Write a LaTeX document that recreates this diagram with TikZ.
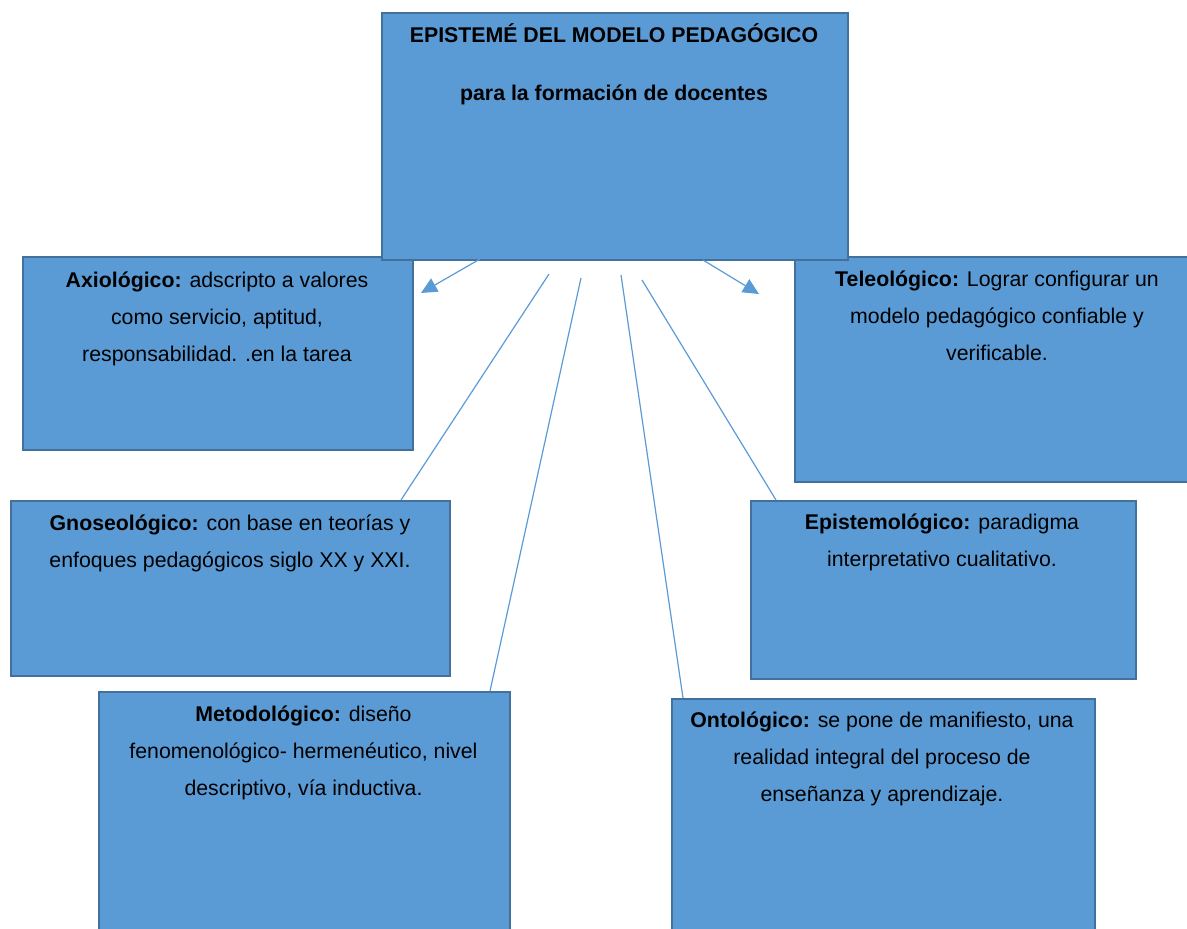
\documentclass[tikz,border=0pt]{standalone}
\usepackage{fontspec}
\setmainfont{Liberation Sans}
\usetikzlibrary{arrows.meta,calc}
\definecolor{boxfill}{HTML}{5B9BD5}
\definecolor{boxline}{HTML}{41719C}
\begin{document}
\begin{tikzpicture}[x=1pt,y=-1pt,
  panel/.style={draw=boxline,fill=boxfill,line width=2.4pt,inner sep=0pt,anchor=north west},
  txt/.style={anchor=north,align=center,inner sep=0pt,font=\fontsize{21.3}{37}\selectfont},
  link/.style={draw=boxfill,line width=1.2pt},
  arr/.style={link,-{Triangle[length=16pt,width=15pt]}}]
\useasboundingbox (0,0) rectangle (1187,929);
% side boxes
\node[panel,minimum width=390pt,minimum height=193pt] (axio) at (22,256) {};
\node[panel,minimum width=400pt,minimum height=225pt] (telo) at (794,256) {};
\node[panel,minimum width=439pt,minimum height=175pt] (gnos) at (10,500) {};
\node[panel,minimum width=385pt,minimum height=178pt] (epis) at (750,500) {};
\node[panel,minimum width=411pt,minimum height=250pt] (meto) at (98,691) {};
\node[panel,minimum width=423pt,minimum height=250pt] (onto) at (671,698) {};
% top box
\node[panel,minimum width=466pt,minimum height=247pt] (top) at (381,12) {};
% texts
\node[txt] (ttop) at (614,22) {\rule{0pt}{20pt}\textbf{EPISTEMÉ DEL MODELO PEDAGÓGICO}\\[21pt]\textbf{para la formación de docentes}};
\node[txt] (taxio) at (217,267) {\rule{0pt}{20pt}\textbf{Axiológico:} adscripto a valores\\como servicio, aptitud,\\responsabilidad. .en la tarea};
\node[txt] (ttelo) at (997,266) {\rule{0pt}{20pt}\textbf{Teleológico:} Lograr configurar un\\modelo pedagógico confiable y\\verificable.};
\node[txt] (tgnos) at (230,510) {\rule{0pt}{20pt}\textbf{Gnoseológico:} con base en teorías y\\enfoques pedagógicos siglo XX y XXI.};
\node[txt] (tepis) at (942,509) {\rule{0pt}{20pt}\textbf{Epistemológico:} paradigma\\interpretativo cualitativo.};
\node[txt] (tmeto) at (303.5,701) {\rule{0pt}{20pt}\textbf{Metodológico:} diseño\\fenomenológico- hermenéutico, nivel\\descriptivo, vía inductiva.};
\node[txt] (tonto) at (882,707) {\rule{0pt}{20pt}\textbf{Ontológico:} se pone de manifiesto, una\\realidad integral del proceso de\\enseñanza y aprendizaje.};
% connector points
\coordinate (sL) at (480,259);
\coordinate (eL) at (421,293);
\coordinate (sR) at (703,260);
\coordinate (eR) at (759,294);
\coordinate (sG) at (549,274);
\coordinate (sM) at (581,278);
\coordinate (sO) at (621,275);
\coordinate (sE) at (642,280);
% connectors
\draw[arr] (sL) -- (eL);
\draw[arr] (sR) -- (eR);
\draw[link] (sG) -- ($(gnos.north west)+(391,0)$);
\draw[link] (sM) -- ($(meto.north west)+(392,0)$);
\draw[link] (sO) -- ($(onto.north west)+(12,0)$);
\draw[link] (sE) -- ($(epis.north west)+(26,0)$);
\end{tikzpicture}
\end{document}
